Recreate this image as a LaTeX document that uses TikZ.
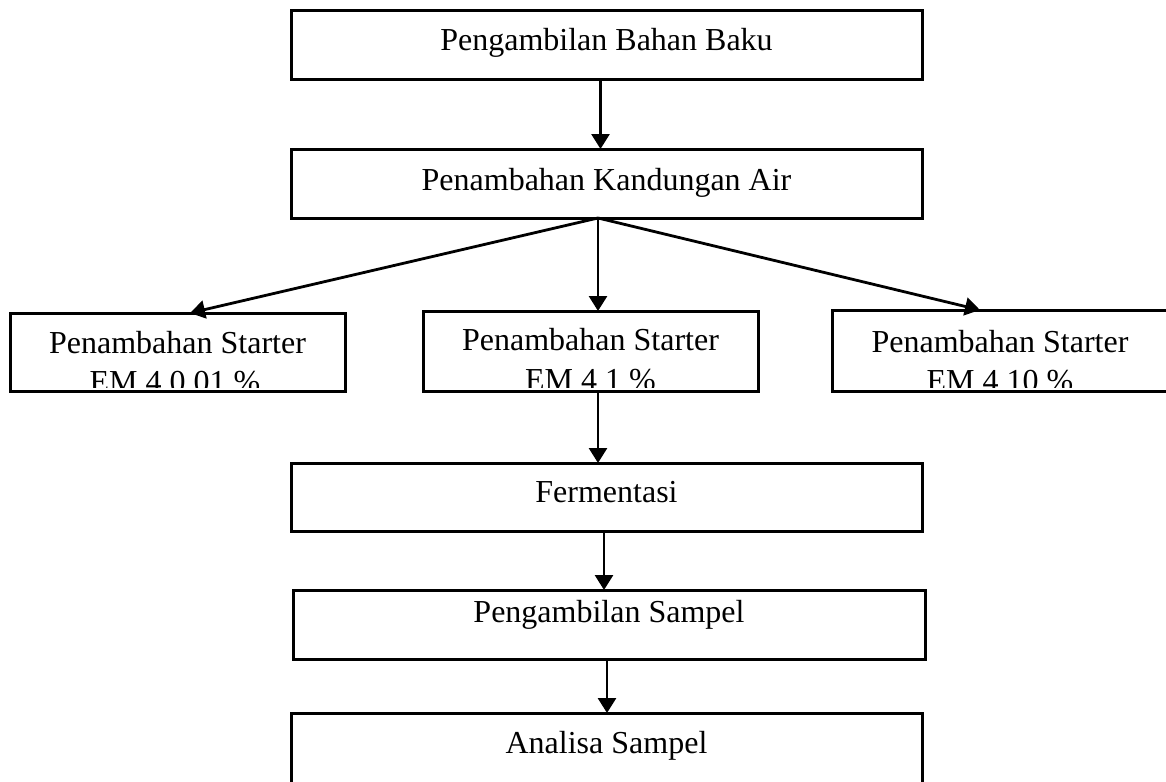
\documentclass[tikz,border=0pt]{standalone}
\usepackage{fontspec}
\setmainfont{Liberation Serif}
\usetikzlibrary{arrows.meta}
\tikzset{
  box/.style={draw=black, line width=3pt, rectangle, inner sep=0pt, outer sep=0pt},
  lbl/.style={anchor=base, inner sep=0pt, font=\fontsize{32}{38}\selectfont},
  arr/.style={line width=2.8pt, -{Triangle[length=15pt,width=18pt]}}
}
\begin{document}
\begin{tikzpicture}[x=1pt,y=-1pt]
\useasboundingbox (0,0) rectangle (1166,781);
\clip (0,0) rectangle (1166,781);
% boxes
\node[box, minimum width=631pt, minimum height=69pt] (b1) at (606.5,45.5) {};
\node[box, minimum width=631pt, minimum height=69pt] (b2) at (606.5,183.5) {};
\node[box, minimum width=335pt, minimum height=78pt] (sl) at (177.5,352) {};
\node[box, minimum width=335pt, minimum height=80pt] (sm) at (590.5,351) {};
\node[box, minimum width=348pt, minimum height=81pt] (sr) at (1006,350.5) {};
\node[box, minimum width=631pt, minimum height=68pt] (fer) at (606.5,497) {};
\node[box, minimum width=632pt, minimum height=69pt] (ps) at (609,624.5) {};
\node[box, minimum width=631pt, minimum height=100pt] (as) at (606.5,763) {};
% texts
\node[lbl] (t1) at (606.5,51) {Pengambilan Bahan Baku};
\node[lbl] (t2) at (606.5,190) {Penambahan Kandungan Air};
\node[lbl] (tl1) at (177.5,353) {Penambahan Starter};
\node[lbl] (tm1) at (590.5,350) {Penambahan Starter};
\node[lbl] (tr1) at (1000,352) {Penambahan Starter};
\begin{scope}
\clip (0,0) rectangle (1166,387);
\node[lbl] (tl2) at (175,392) {EM 4 0.01 \%};
\node[lbl] (tm2) at (590.5,390) {EM 4 1 \%};
\node[lbl] (tr2) at (1000,391) {EM 4 10 \%};
\end{scope}
\node[lbl] (t5) at (606.5,502) {Fermentasi};
\node[lbl] (t6) at (609,622) {Pengambilan Sampel};
\node[lbl] (t7) at (606.5,753) {Analisa Sampel};
% connectors
\draw[arr] ([xshift=-6pt]b1.south) -- ([xshift=-6pt]b2.north);
\draw[arr] ([xshift=-8.5pt]b2.south) -- ([xshift=7.5pt]sm.north);
\draw[arr] ([xshift=-8.5pt]b2.south) -- ([xshift=12.5pt]sl.north);
\draw[arr] ([xshift=-8.5pt]b2.south) -- ([xshift=-26pt]sr.north);
\draw[arr] ([xshift=7.5pt]sm.south) -- ([xshift=-8.5pt]fer.north);
\draw[arr] ([xshift=-2.5pt]fer.south) -- ([xshift=-5pt]ps.north);
\draw[arr] ([xshift=-2pt]ps.south) -- ([xshift=0.5pt]as.north);
\end{tikzpicture}
\end{document}
